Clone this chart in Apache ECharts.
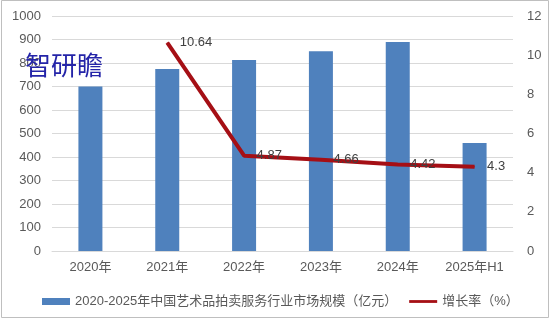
<!DOCTYPE html>
<html><head><meta charset="utf-8">
<script src="https://cdn.jsdelivr.net/npm/echarts@6/dist/echarts.min.js"></script>
<style>html,body{margin:0;padding:0;background:#fff}#c{width:552px;height:322px}</style>
</head><body><div id="c"></div>
<script>
var categories = ['2020年','2021年','2022年','2023年','2024年','2025年H1'];
var marketSize = [700, 774, 813, 850, 889, 460];
var growthRate = [null, 10.64, 4.87, 4.66, 4.42, 4.3];
var barName = '2020-2025年中国艺术品拍卖服务行业市场规模（亿元）';
var lineName = '增长率（%）';
var FONT = '"Liberation Sans","Noto Sans CJK SC",sans-serif';
var chart = echarts.init(document.getElementById('c'), null, {renderer:'canvas'});
chart.setOption({
  animation:false,
  backgroundColor:'#fff',
  textStyle:{fontFamily:FONT},
  grid:{left:52,right:39,top:16,bottom:71},
  legend:{
    left:37, top:290, itemWidth:28, itemHeight:7, itemGap:12,
    textStyle:{fontSize:13,color:'#595959',fontFamily:FONT},
    data:[{name:barName,icon:'rect'},{name:lineName,icon:'path://M0,0L30,0L30,3L0,3Z'}]
  },
  xAxis:{
    type:'category', data:categories,
    axisLine:{lineStyle:{color:'#d9d9d9'}},
    axisTick:{show:false},
    axisLabel:{fontSize:13,color:'#595959',margin:10}
  },
  yAxis:[
    {type:'value',min:0,max:1000,interval:100,
     axisLabel:{fontSize:13,color:'#595959',margin:11,formatter:function(v){return String(v);}},
     splitLine:{lineStyle:{color:'#d9d9d9'}},axisLine:{show:false},axisTick:{show:false}},
    {type:'value',min:0,max:12,interval:2,position:'right',
     axisLabel:{fontSize:13,color:'#595959',margin:14},
     splitLine:{show:false},axisLine:{show:false},axisTick:{show:false}}
  ],
  series:[
    {name:barName,type:'bar',data:marketSize,barWidth:24,itemStyle:{color:'#4F81BD'}},
    {name:lineName,type:'line',yAxisIndex:1,data:growthRate,symbol:'circle',symbolSize:1,showSymbol:true,connectNulls:false,
     lineStyle:{color:'#A50F15',width:4},itemStyle:{color:'#A50F15'},
     label:{show:true,position:'right',distance:12,fontSize:13,color:'#404040'}}
  ],
  graphic:[
    {type:'rect',shape:{x:1.5,y:0.5,width:547,height:317},style:{fill:'none',stroke:'#bfbfbf',lineWidth:1},silent:true},
    {type:'text',left:25,top:52,style:{text:'智研瞻',fontSize:26,fill:'#2424a8',fontFamily:'"Noto Sans CJK SC",sans-serif'},z:100}
  ]
});
</script></body></html>
